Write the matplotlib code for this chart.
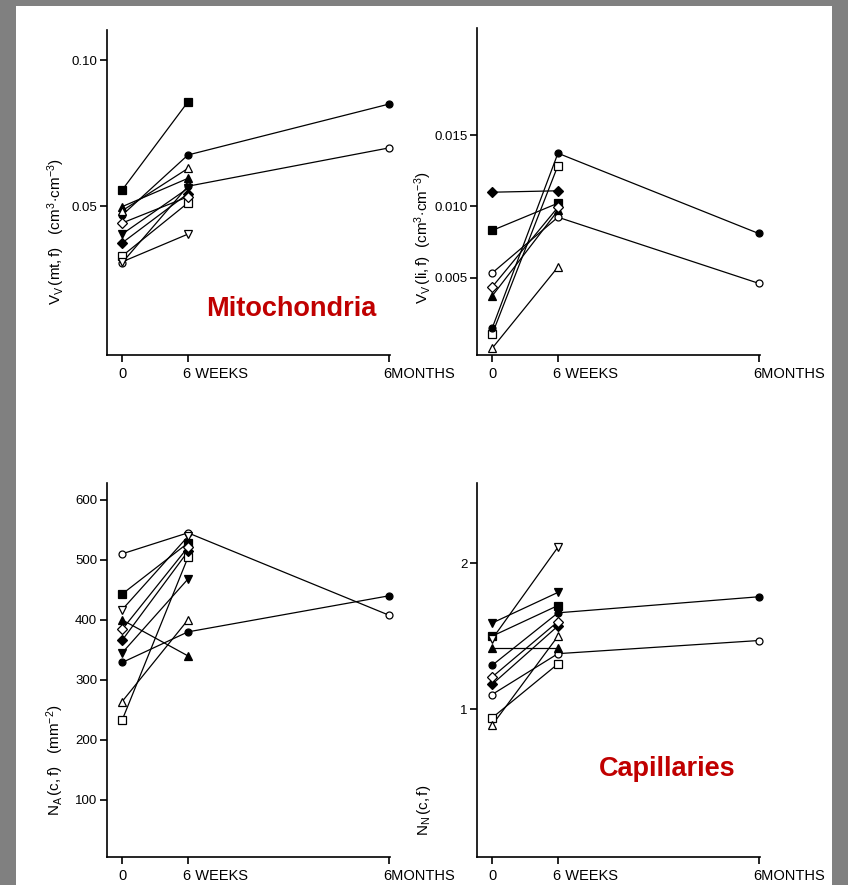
import numpy as np
import matplotlib
matplotlib.use("Agg")
import matplotlib.pyplot as plt
from matplotlib.patches import Rectangle
import matplotlib.transforms as mtransforms

plt.rcParams['font.family'] = ['Liberation Sans', 'DejaVu Sans']
plt.rcParams['mathtext.fontset'] = 'custom'
plt.rcParams['mathtext.rm'] = 'Liberation Sans'
plt.rcParams['mathtext.it'] = 'Liberation Sans'

nan = np.nan
# ---- data ----
time_labels = ["0", "6 WEEKS", "6MONTHS"]
time_pos = [0, 1, 4.05]
subjects = ["sq_f", "sq_o", "ci_f", "ci_o", "tr_f", "tr_o", "iv_f", "iv_o", "di_f", "di_o"]

mito_w0 = [0.0555, 0.0329, 0.0469, 0.0306, 0.0498, 0.0484, 0.0404, 0.0309, 0.0374, 0.0442]
mito_w6 = [0.0857, 0.0511, 0.0675, 0.0568, 0.0595, 0.0629, 0.0561, 0.0404, 0.0543, 0.0532]
mito_m6 = [nan, nan, 0.0849, 0.0699, nan, nan, nan, nan, nan, nan]

lipid_w0 = [0.00832, 0.00105, 0.00147, 0.00534, 0.00373, 0.00007, nan, nan, 0.0110, 0.00436]
lipid_w6 = [0.01023, 0.01287, 0.01373, 0.00925, 0.00972, 0.00576, nan, nan, 0.0111, 0.00995]
lipid_m6 = [nan, nan, 0.00811, 0.00462, nan, nan, nan, nan, nan, nan]

na_w0 = [443, 233, 329, 510, 400, 264, 345, 417, 366, 384]
na_w6 = [528, 504, 380, 545, 340, 400, 468, 539, 514, 521]
na_m6 = [nan, nan, 440, 408, nan, nan, nan, nan, nan, nan]

nn_w0 = [1.50, 0.94, 1.30, 1.10, 1.42, 0.89, 1.59, 1.48, 1.17, 1.22]
nn_w6 = [1.71, 1.31, 1.66, 1.38, 1.42, 1.50, 1.80, 2.11, 1.57, 1.60]
nn_m6 = [nan, nan, 1.77, 1.47, nan, nan, nan, nan, nan, nan]

# ---- styles ----
marker_of = {"sq": "s", "ci": "o", "tr": "^", "iv": "v", "di": "D"}
msize = {"sq": 5.5, "ci": 5.0, "tr": 6.0, "iv": 6.0, "di": 5.0}

W, H = 848, 885
fig = plt.figure(figsize=(W / 100, H / 100), dpi=100)
fig.patch.set_facecolor('#808080')
fig.add_artist(Rectangle((16 / W, 0), (832 - 16) / W, (H - 6) / H,
                         transform=fig.transFigure, facecolor='white', edgecolor='none', zorder=0))


def make_ax(left, top, right, bottom):
    return fig.add_axes([left / W, 1 - bottom / H, (right - left) / W, (bottom - top) / H])


panels = [
    dict(box=(107, 30, 390, 355), ylim=(-0.001, 0.1103), yticks=[0.05, 0.10], ytl=["0.05", "0.10"],
         data=(mito_w0, mito_w6, mito_m6),
         ylabel=r'$\mathrm{V_V\,(mt,f)}$   $(\mathrm{cm^3\!\cdot\!cm^{-3}})$', ylab_pos=(56, 232)),
    dict(box=(477, 28, 760, 355), ylim=(-0.0004, 0.0225), yticks=[0.005, 0.010, 0.015],
         ytl=["0.005", "0.010", "0.015"], data=(lipid_w0, lipid_w6, lipid_m6),
         ylabel=r'$\mathrm{V_V\,(li,f)}$  $(\mathrm{cm^3\!\cdot\!cm^{-3}})$', ylab_pos=(423, 238)),
    dict(box=(107, 483, 390, 857), ylim=(5, 628), yticks=[100, 200, 300, 400, 500, 600],
         ytl=["100", "200", "300", "400", "500", "600"], data=(na_w0, na_w6, na_m6),
         ylabel=r'$\mathrm{N_A\,(c,f)}$   $(\mathrm{mm^{-2}})$', ylab_pos=(55, 760)),
    dict(box=(477, 483, 760, 857), ylim=(-0.014, 2.55), yticks=[1, 2], ytl=["1", "2"],
         data=(nn_w0, nn_w6, nn_m6),
         ylabel=r'$\mathrm{N_N\,(c,f)}$', ylab_pos=(424, 810)),
]

for p in panels:
    ax = make_ax(*p['box'])
    ax.set_facecolor('none')
    for s in ['top', 'right']:
        ax.spines[s].set_visible(False)
    for s in ['left', 'bottom']:
        ax.spines[s].set_linewidth(1.2)
    ax.set_xlim(-0.23, 4.07)
    ax.set_ylim(*p['ylim'])
    ax.set_yticks(p['yticks'])
    ax.set_yticklabels(p['ytl'], fontsize=9.5)
    ax.set_xticks(time_pos)
    ax.set_xticklabels(time_labels, fontsize=10.5)
    ax.tick_params(direction='out', length=5, width=1.2, pad=2)
    ax.tick_params(axis='x', pad=4)
    off = mtransforms.ScaledTranslation(-5 / 100, 0, fig.dpi_scale_trans)
    for lbl in ax.get_xticklabels()[1:]:
        lbl.set_ha('left')
        lbl.set_transform(lbl.get_transform() + off)
    w0, w6, m6 = p['data']
    for i, subj in enumerate(subjects):
        kind, fill = subj.split('_')
        ys = np.array([w0[i], w6[i], m6[i]], dtype=float)
        ax.plot(time_pos, ys, color='black', lw=0.9, zorder=2)
        ax.plot(time_pos, ys, ls='none', marker=marker_of[kind], ms=msize[kind],
                mfc='black' if fill == 'f' else 'white', mec='black', mew=0.9, zorder=3,
                clip_on=False)
    fig.text(p['ylab_pos'][0] / W, 1 - p['ylab_pos'][1] / H, p['ylabel'], rotation=90,
             ha='center', va='center', fontsize=11)

fig.text(291 / W, 1 - 309 / H, "Mitochondria", color='#C00000', fontsize=19.5, fontweight='bold',
         ha='center', va='center')
fig.text(667 / W, 1 - 769 / H, "Capillaries", color='#C00000', fontsize=19.5, fontweight='bold',
         ha='center', va='center')

fig.savefig("out.png", dpi=100, facecolor=fig.get_facecolor())
